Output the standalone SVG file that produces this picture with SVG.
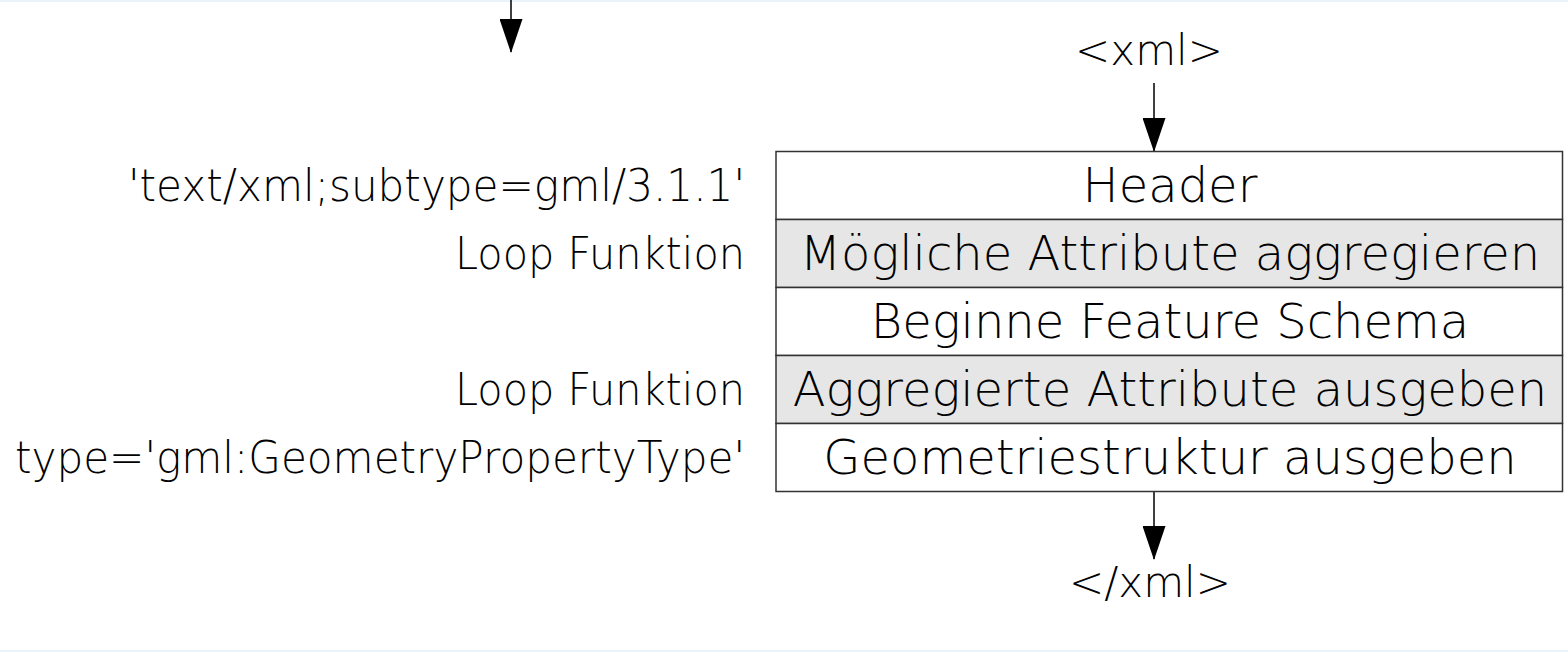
<svg xmlns="http://www.w3.org/2000/svg" width="1568" height="652" viewBox="0 0 1568 652">
<style>
text{font-family:"DejaVu Sans","Liberation Sans",sans-serif;font-weight:200;font-size:48px;fill:#000}
.c{text-anchor:middle}
.r{text-anchor:end;font-size:44px}
.x{font-size:42px}
.box{stroke:#333;stroke-width:1.5}
.w{fill:#fff}
.g{fill:#e6e6e6}
.edge{stroke:#000;stroke-width:1.5;fill:none}
</style>
<defs>
<marker id="ah" markerUnits="userSpaceOnUse" markerWidth="34" markerHeight="23" refX="33" refY="11.5" orient="auto" viewBox="0 0 34 23">
<path d="M0,0 L34,11.5 L0,23 Z" fill="#000"/>
</marker>
</defs>
<rect x="0" y="0" width="1568" height="652" fill="#fff"/>
<rect x="0" y="0" width="1568" height="2" fill="#eaf2fa"/>
<rect x="0" y="650" width="1568" height="2" fill="#eaf2fa"/>
<g id="connectors">
<line class="edge" x1="511" y1="0" x2="511" y2="52" marker-end="url(#ah)"/>
<line class="edge" x1="1154" y1="83" x2="1154" y2="151" marker-end="url(#ah)"/>
<line class="edge" x1="1154" y1="491" x2="1154" y2="559" marker-end="url(#ah)"/>
</g>
<g id="xml-start"><text class="c x" x="1149" y="65">&lt;xml&gt;</text></g>
<g id="xml-end"><text class="c x" x="1150" y="597">&lt;/xml&gt;</text></g>
<g id="header">
<rect class="box w" x="776" y="151.5" width="786.5" height="68"/>
<text class="c" x="1170" y="202">Header</text>
</g>
<g id="attr-aggregate">
<rect class="box g" x="776" y="219.5" width="786.5" height="68"/>
<text class="c" x="1170" y="270">Mögliche Attribute aggregieren</text>
</g>
<g id="feature-schema">
<rect class="box w" x="776" y="287.5" width="786.5" height="68"/>
<text class="c" x="1170" y="338">Beginne Feature Schema</text>
</g>
<g id="attr-output">
<rect class="box g" x="776" y="355.5" width="786.5" height="68"/>
<text class="c" x="1170" y="406">Aggregierte Attribute ausgeben</text>
</g>
<g id="geometry">
<rect class="box w" x="776" y="423.5" width="786.5" height="68"/>
<text class="c" x="1170" y="474">Geometriestruktur ausgeben</text>
</g>
<g id="labels">
<text class="r" x="745" y="201" textLength="617" lengthAdjust="spacingAndGlyphs">'text/xml;subtype=gml/3.1.1'</text>
<text class="r" x="745" y="269" textLength="290" lengthAdjust="spacingAndGlyphs">Loop Funktion</text>
<text class="r" x="745" y="405" textLength="290" lengthAdjust="spacingAndGlyphs">Loop Funktion</text>
<text class="r" x="745" y="473" textLength="730" lengthAdjust="spacingAndGlyphs">type='gml:GeometryPropertyType'</text>
</g>
</svg>
